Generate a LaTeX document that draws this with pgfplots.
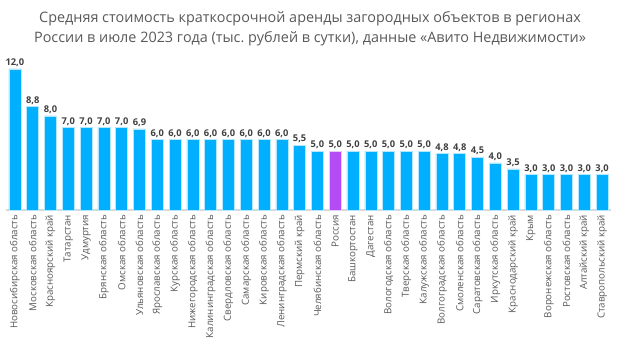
\documentclass[border=0pt]{standalone}
\usepackage{pgfplots}
\pgfplotsset{compat=1.18}
\usepackage{pgfplotstable}
\usepackage{fontspec}
\setmainfont{Open Sans}
\frenchspacing
\definecolor{barblue}{HTML}{00B0FF}
\definecolor{barpurple}{HTML}{B44CF5}
\definecolor{txtgray}{HTML}{595959}
\definecolor{lblgray}{HTML}{404040}
\pgfplotstableread{
x y
0 12.0
1 8.8
2 8.0
3 7.0
4 7.0
5 7.0
6 7.0
7 6.9
8 6.0
9 6.0
10 6.0
11 6.0
12 6.0
13 6.0
14 6.0
15 6.0
16 5.5
17 5.0
19 5.0
20 5.0
21 5.0
22 5.0
23 5.0
24 4.8
25 4.8
26 4.5
27 4.0
28 3.5
29 3.0
30 3.0
31 3.0
32 3.0
33 3.0
}\regions
\pgfplotstableread{
x y
18 5.0
}\russia
\begin{document}
\begin{tikzpicture}
\path[use as bounding box] (-4.5pt,-103.5pt) rectangle (460.5pt,157.5pt);
\begin{axis}[
  at={(0,0)}, anchor=south west,
  scale only axis,
  width=453.75pt, height=123.4pt,
  xmin=-0.5, xmax=33.5, ymin=0, ymax=14,
  axis x line*=bottom, axis y line=none,
  x axis line style={draw=black!15, line width=0.8pt},
  ytick=\empty,
  xtick={0,...,33},
  major tick length=0pt,
  xticklabels={Новосибирская область, Московская область, Красноярский край, Татарстан, Удмуртия, Брянская область, Омская область, Ульяновская область, Ярославская область, Курская область, Нижегородская область, Калининградская область, Свердловская область, Самарская область, Кировская область, Ленинградская область, Пермский край, Челябинская область, Россия, Башкортостан, Дагестан, Вологодская область, Тверская область, Калужская область, Волгоградская область, Смоленская область, Саратовская область, Иркутская область, Краснодарский край, Крым, Воронежская область, Ростовская область, Алтайский край, Ставропольский край},
  xticklabel style={rotate=90, anchor=east, font=\fontsize{7.3pt}{8pt}\selectfont, text=txtgray, inner sep=1pt},
  xticklabel shift=2.5pt,
  ybar, bar width=9pt, bar shift=0pt,
  nodes near coords,
  every node near coord/.append style={font=\bfseries\fontsize{7pt}{8pt}\selectfont, text=lblgray, inner sep=1.5pt},
  /pgf/number format/.cd, fixed, fixed zerofill, precision=1, use comma, assume math mode=true,
  clip=false,
]
\addplot[fill=barblue, draw=white!70!barblue, line width=0.4pt] table[x=x,y=y] {\regions};
\addplot[fill=barpurple, draw=white!70!barpurple, line width=0.4pt] table[x=x,y=y] {\russia};
\end{axis}
\node[align=center, text=txtgray, font=\fontsize{10.8pt}{15.5pt}\selectfont] at (228pt,136pt) {Средняя стоимость краткосрочной аренды загородных объектов в регионах\\России в июле 2023 года (тыс.\ рублей в сутки), данные «Авито Недвижимости»};
\end{tikzpicture}
\end{document}
